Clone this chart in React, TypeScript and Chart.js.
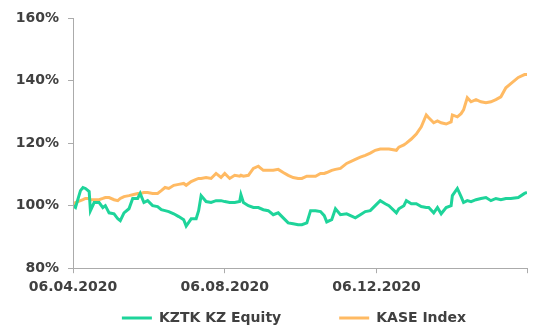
import React, { useEffect, useRef } from "react";
import { Chart, registerables } from "chart.js";

Chart.register(...registerables);

// Days since 06.04.2020
const days = [0,2,6,8,10,13,14,17,21,24,26,29,33,36,38,41,45,48,52,54,57,60,64,68,71,74,77,81,85,89,91,95,99,101,103,107,111,115,119,122,126,130,134,135,137,141,145,149,153,157,161,165,169,173,177,181,184,188,191,195,199,202,204,208,211,215,220,227,231,235,239,243,247,251,254,260,262,266,268,272,276,280,284,286,290,293,296,300,304,305,309,312,314,317,320,324,328,332,336,340,344,348,352,358,363,365];

const kztk = [100,99.4,104.8,105.8,105.5,104.5,98.4,101,101,99.4,100,97.7,97.4,95.8,95.2,97.7,99,102.3,102.3,103.9,101,101.6,100,99.7,98.7,98.4,98.1,97.4,96.5,95.5,93.5,95.8,95.8,98.4,103.2,101.3,101,101.6,101.6,101.3,101,101,101.3,103.5,101,100,99.4,99.4,98.7,98.4,97.1,97.7,96.1,94.5,94.2,93.9,93.9,94.5,98.4,98.4,98.1,96.8,94.8,95.5,99,97.1,97.4,96.1,97.1,98.1,98.4,100,101.6,100.6,100,97.7,99,100,101.6,100.6,100.6,99.7,99.4,99.4,97.7,99.4,97.4,99.4,100,103.2,105.5,102.9,101,101.6,101.3,101.9,102.3,102.6,101.6,102.3,101.9,102.3,102.3,102.6,103.9,104.2];

const kase = [100,101,101.6,101.9,102.3,102.3,101.9,101.9,101.9,102.3,102.6,102.6,101.9,101.6,102.3,102.9,103.2,103.5,103.9,103.9,104.2,104.2,103.9,103.9,104.8,105.8,105.5,106.5,106.8,107.1,106.5,107.7,108.4,108.7,108.7,109,108.7,110.3,109,110.3,108.7,109.7,109.4,109.7,109.4,109.7,111.9,112.6,111.3,111.3,111.3,111.6,110.6,109.7,109,108.7,108.7,109.4,109.4,109.4,110.3,110.3,110.6,111.3,111.6,111.9,113.5,114.8,115.5,116.1,116.8,117.7,118.1,118.1,118.1,117.7,118.7,119.4,120,121.3,122.9,125.2,129,128.1,126.5,127.1,126.5,126.1,126.8,129,128.4,129.4,130.6,134.5,133.2,133.9,133.2,132.9,133.2,133.9,134.8,137.7,139,141,141.9,141.9];

const seriesNames = ["KZTK KZ Equity", "KASE Index"];
const tickDays = [0, 122, 244, 365];
const tickLabels = ["06.04.2020", "06.08.2020", "06.12.2020", ""];

const GREEN = "#1ED49A";
const ORANGE = "#FFBA63";
const TEXT = "#404040";
const AXIS = "#ABABAB";
const FONT = { family: "'DejaVu Sans', Verdana, sans-serif", size: 14, weight: "bold" as const };

const LEGEND_DX = 28;
const LEGEND_DY = -49;

const legendShift = {
  id: "legendShift",
  afterLayout(chart: any) {
    const lg = chart.legend;
    if (!lg) return;
    lg.left += LEGEND_DX;
    lg.right += LEGEND_DX;
    lg.top += LEGEND_DY;
  },
};

export default function App() {
  const ref = useRef<HTMLCanvasElement>(null);
  useEffect(() => {
    if (!ref.current) return;
    const chart = new Chart(ref.current, {
      type: "line",
      data: {
        datasets: [
          {
            label: seriesNames[0],
            data: days.map((d, i) => ({ x: d, y: kztk[i] })),
            borderColor: GREEN,
            backgroundColor: GREEN,
            borderWidth: 3,
            pointRadius: 0,
            tension: 0,
          },
          {
            label: seriesNames[1],
            data: days.map((d, i) => ({ x: d, y: kase[i] })),
            borderColor: ORANGE,
            backgroundColor: ORANGE,
            borderWidth: 3,
            pointRadius: 0,
            tension: 0,
          },
        ],
      },
      options: {
        animation: false,
        responsive: true,
        maintainAspectRatio: false,
        layout: { padding: { top: 18, right: 1, left: 0, bottom: 0 } },
        plugins: {
          tooltip: { enabled: false },
          legend: {
            position: "bottom",
            maxHeight: 23,
            labels: {
              font: FONT,
              color: TEXT,
              boxWidth: 30,
              boxHeight: 3,
              padding: 58,
              generateLabels(c: any) {
                const items = (Chart.defaults.plugins.legend.labels as any).generateLabels(c);
                items.forEach((it: any) => { it.lineWidth = 0; });
                return items;
              },
            },
          },
        },
        scales: {
          x: {
            type: "linear",
            min: 0,
            max: 365,
            afterBuildTicks(scale: any) {
              scale.ticks = tickDays.map((v) => ({ value: v }));
            },
            ticks: {
              autoSkip: false,
              maxRotation: 0,
              font: FONT,
              color: TEXT,
              padding: 6,
              callback: (v: any) => {
                const i = tickDays.indexOf(Number(v));
                return i >= 0 ? tickLabels[i] : "";
              },
            },
            grid: { display: true, drawOnChartArea: false, drawTicks: true, tickLength: 5, color: AXIS, lineWidth: 1, z: 1 },
            border: { display: true, color: AXIS, width: 1, z: 1 },
          },
          y: {
            min: 80,
            max: 160,
            afterFit(scale: any) {
              scale.width = 73;
            },
            ticks: {
              stepSize: 20,
              font: FONT,
              color: TEXT,
              padding: 9,
              callback: (v: any) => `${v}%`,
            },
            grid: { display: true, drawOnChartArea: false, drawTicks: true, tickLength: 5, color: AXIS, lineWidth: 1, z: 1 },
            border: { display: true, color: AXIS, width: 1, z: 1 },
          },
        },
      },
      plugins: [legendShift],
    });
    return () => chart.destroy();
  }, []);
  return (
    <div style={{ position: "fixed", left: 0, top: 0, width: 533, height: 325, background: "#fff" }}>
      <div style={{ position: "relative", width: 533, height: 325 }}>
        <canvas ref={ref} />
      </div>
    </div>
  );
}
